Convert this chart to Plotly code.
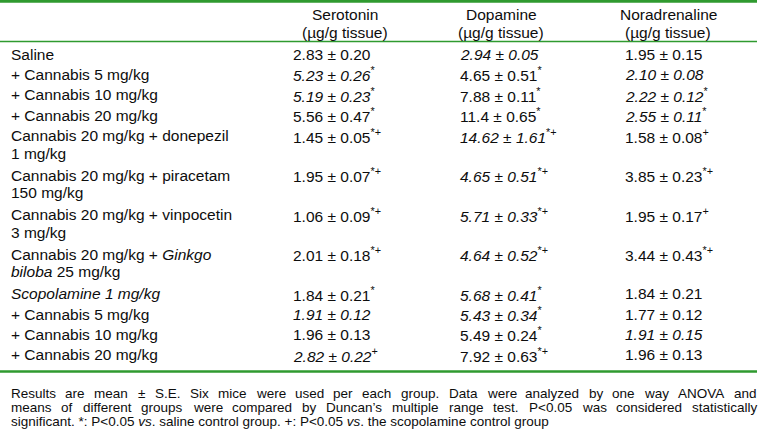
import re
import plotly.graph_objects as go

# ---------------- data ----------------
groups = [
    ["Saline"],
    ["+ Cannabis 5 mg/kg"],
    ["+ Cannabis 10 mg/kg"],
    ["+ Cannabis 20 mg/kg"],
    ["Cannabis 20 mg/kg + donepezil", "1 mg/kg"],
    ["Cannabis 20 mg/kg + piracetam", "150 mg/kg"],
    ["Cannabis 20 mg/kg + vinpocetin", "3 mg/kg"],
    ["Cannabis 20 mg/kg + <i>Ginkgo</i>", "<i>biloba</i> 25 mg/kg"],
    ["<i>Scopolamine 1 mg/kg</i>"],
    ["+ Cannabis 5 mg/kg"],
    ["+ Cannabis 10 mg/kg"],
    ["+ Cannabis 20 mg/kg"],
]

columns = ["Serotonin", "Dopamine", "Noradrenaline"]
unit = "(µg/g tissue)"

serotonin_mean = ["2.83", "5.23", "5.19", "5.56", "1.45", "1.95", "1.06", "2.01", "1.84", "1.91", "1.96", "2.82"]
serotonin_se = ["0.20", "0.26", "0.23", "0.47", "0.05", "0.07", "0.09", "0.18", "0.21", "0.12", "0.13", "0.22"]
serotonin_sig = ["", "*", "*", "*", "*+", "*+", "*+", "*+", "*", "", "", "+"]
serotonin_italic = [0, 1, 1, 0, 0, 0, 0, 0, 0, 1, 0, 1]

dopamine_mean = ["2.94", "4.65", "7.88", "11.4", "14.62", "4.65", "5.71", "4.64", "5.68", "5.43", "5.49", "7.92"]
dopamine_se = ["0.05", "0.51", "0.11", "0.65", "1.61", "0.51", "0.33", "0.52", "0.41", "0.34", "0.24", "0.63"]
dopamine_sig = ["", "*", "*", "*", "*+", "*+", "*+", "*+", "*", "*", "*", "*+"]
dopamine_italic = [1, 0, 0, 0, 1, 1, 1, 1, 1, 1, 0, 0]

noradrenaline_mean = ["1.95", "2.10", "2.22", "2.55", "1.58", "3.85", "1.95", "3.44", "1.84", "1.77", "1.91", "1.96"]
noradrenaline_se = ["0.15", "0.08", "0.12", "0.11", "0.08", "0.23", "0.17", "0.43", "0.21", "0.12", "0.15", "0.13"]
noradrenaline_sig = ["", "", "*", "*", "+", "*+", "+", "*+", "", "", "", ""]
noradrenaline_italic = [0, 1, 1, 1, 0, 0, 0, 0, 0, 0, 1, 0]

footnote_lines = [
    "Results are mean ± S.E. Six mice were used per each group. Data were analyzed by one way ANOVA and",
    "means of different groups were compared by Duncan’s multiple range test. P<0.05 was considered statistically",
    "significant. *: P<0.05 <i>vs</i>. saline control group. +: P<0.05 <i>vs</i>. the scopolamine control group",
]

# ---------------- layout constants ----------------
W, H = 765, 434
FONT = "Liberation Sans, Arial, sans-serif"
TXT = "#0d0d0d"
GREEN = "#2f9a2f"
BODY = 15.5
FOOT = 13.5

label_x = 11
value_x = [293, 460, 625]
header_cx = [345, 501, 668]
header_y = [14, 32]

first_row_y = 54
single_step = 20.4
double_step = 39.5
wrap_step = 17.5

line_left, line_right = 0, 757

# Arial / Liberation Sans advance widths (1/1000 em)
AW = {' ': 278, 'a': 556, 'b': 556, 'c': 500, 'd': 556, 'e': 556, 'f': 278, 'g': 556, 'h': 556,
      'i': 222, 'j': 222, 'k': 500, 'l': 222, 'm': 833, 'n': 556, 'o': 556, 'p': 556, 'q': 556,
      'r': 333, 's': 500, 't': 278, 'u': 556, 'v': 500, 'w': 722, 'x': 500, 'y': 500, 'z': 500,
      'A': 667, 'B': 667, 'C': 722, 'D': 722, 'E': 667, 'F': 611, 'G': 778, 'H': 722, 'I': 278,
      'J': 500, 'K': 667, 'L': 556, 'M': 833, 'N': 722, 'O': 778, 'P': 667, 'Q': 778, 'R': 722,
      'S': 667, 'T': 611, 'U': 722, 'V': 667, 'W': 944, 'X': 667, 'Y': 667, 'Z': 611,
      '.': 278, ',': 278, ':': 278, ';': 278, '’': 222, "'": 191, '*': 389, '+': 584, '<': 584,
      '±': 584, '(': 333, ')': 333, '/': 278, '-': 333, 'µ': 556}
for d in "0123456789":
    AW[d] = 556


def text_width(s, size):
    plain = re.sub(r"</?i>", "", s)
    return sum(AW.get(c, 556) for c in plain) * size / 1000.0


def esc(s):
    return (s.replace("<i>", "\x01").replace("</i>", "\x02").replace("<", "&lt;")
             .replace("\x01", "<i>").replace("\x02", "</i>"))


annotations = []
shapes = []


def add_text(x, y, text, size, xanchor="left"):
    annotations.append(dict(x=x, y=y, xref="x", yref="y", text=text, showarrow=False,
                            xanchor=xanchor, yanchor="middle", borderpad=0, borderwidth=0,
                            font=dict(family=FONT, size=size, color=TXT)))


# header
for cx, name in zip(header_cx, columns):
    add_text(cx, header_y[0], name, BODY, "center")
    add_text(cx, header_y[1], unit, BODY, "center")

# rows
cols = [
    (serotonin_mean, serotonin_se, serotonin_sig, serotonin_italic),
    (dopamine_mean, dopamine_se, dopamine_sig, dopamine_italic),
    (noradrenaline_mean, noradrenaline_se, noradrenaline_sig, noradrenaline_italic),
]
y = first_row_y
for r, lines in enumerate(groups):
    for k, ln in enumerate(lines):
        add_text(label_x, y + k * wrap_step, ln, BODY)
    for c, (means, ses, sigs, its) in enumerate(cols):
        core = f"{means[r]} ± {ses[r]}"
        if its[r]:
            core = f"<i>{core}</i>"
        if sigs[r]:
            core += f"<sup>{sigs[r]}</sup>"
        add_text(value_x[c], y, core, BODY)
    y += double_step if len(lines) > 1 else single_step

# rules
shapes.append(dict(type="line", xref="x", yref="y", x0=line_left, x1=line_right, y0=1.2, y1=1.2,
                   line=dict(color=GREEN, width=3)))
shapes.append(dict(type="line", xref="x", yref="y", x0=line_left, x1=line_right, y0=41.5, y1=41.5,
                   line=dict(color=GREEN, width=1.5)))
shapes.append(dict(type="line", xref="x", yref="y", x0=line_left, x1=line_right, y0=371.5, y1=371.5,
                   line=dict(color=GREEN, width=2.5)))

# footnote (first two lines justified)
foot_y = [393.5, 407.5, 421.5]
foot_left, foot_right = 11, 757
for i, ln in enumerate(footnote_lines):
    if i < len(footnote_lines) - 1:
        words = ln.split(" ")
        widths = [text_width(w, FOOT) for w in words]
        gap = (foot_right - foot_left - sum(widths)) / (len(words) - 1)
        x = foot_left
        for w, wd in zip(words, widths):
            add_text(x, foot_y[i], esc(w), FOOT)
            x += wd + gap
    else:
        add_text(foot_left, foot_y[i], esc(ln), FOOT)

fig = go.Figure()
fig.update_layout(
    width=W, height=H, margin=dict(l=0, r=0, t=0, b=0),
    paper_bgcolor="white", plot_bgcolor="white",
    xaxis=dict(range=[0, W], visible=False, fixedrange=True),
    yaxis=dict(range=[H, 0], visible=False, fixedrange=True),
    annotations=annotations, shapes=shapes, showlegend=False,
)
fig.write_html("out.html", config={"displayModeBar": False},
               post_script="document.body.style.margin='0';")
